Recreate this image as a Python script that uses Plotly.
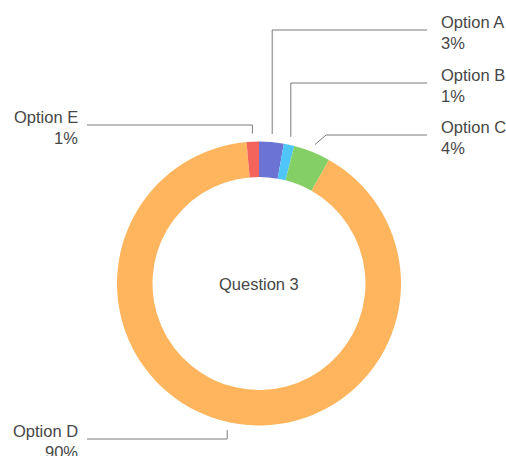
import math
import plotly.graph_objects as go

labels = ["Option A", "Option B", "Option C", "Option D", "Option E"]
values = [2.8, 1.2, 4.2, 90.4, 1.4]
colors = ["#6B74D2", "#4FC6F8", "#85D066", "#FFB55E", "#F5645B"]
title = "Question 3"

W, H = 506, 456
CX, CY, R = 259, 283.5, 142
HOLE = 0.75

fig = go.Figure()
fig.add_trace(go.Pie(
    labels=labels, values=values, sort=False, direction="clockwise", rotation=0,
    hole=HOLE, marker=dict(colors=colors, line=dict(width=0)),
    textinfo="none", hoverinfo="label+percent", showlegend=False,
    domain=dict(x=[(CX - R) / W, (CX + R) / W], y=[(H - CY - R) / H, (H - CY + R) / H]),
))

# leader lines and labels computed from slice mid-angles
total = sum(values)
cum = 0
label_cfg = {
    "Option A": ("right", 30),
    "Option B": ("right", 83),
    "Option C": ("right", 135),
    "Option D": ("left", 439),
    "Option E": ("left", 125),
}
shapes = []
annotations = []
line_col = "#7a7a7a"
txt_col = "#474747"
FS = 16.5
for lab, v in zip(labels, values):
    mid = (cum + v / 2) / total * 2 * math.pi
    cum += v
    rr = R + 8
    px = CX + rr * math.sin(mid)
    py = CY - rr * math.cos(mid)
    side, ly = label_cfg[lab]
    pct = v / total
    if side == "right":
        xend = 427
        if abs(py - ly) > 15:
            pts = [(px, py), (px, ly), (xend, ly)]
        else:
            pts = [(px, py), (px + 11, ly), (xend, ly)]
        tx, anchor = 439, "left"
    else:
        xend = 87
        pts = [(px, py), (px, ly), (xend, ly)]
        tx, anchor = 80, "right"
    path = "M " + " L ".join(f"{x:.1f},{y:.1f}" for x, y in pts)
    shapes.append(dict(type="path", path=path, xref="x", yref="y",
                       line=dict(color=line_col, width=1)))
    annotations.append(dict(x=tx, y=ly - 8.5, xref="x", yref="y", text=lab,
                            showarrow=False, xanchor=anchor, yanchor="middle",
                            align=anchor, font=dict(size=FS, color=txt_col)))
    annotations.append(dict(x=tx, y=ly + 12.5, xref="x", yref="y", text=f"{pct:.0%}",
                            showarrow=False, xanchor=anchor, yanchor="middle",
                            align=anchor, font=dict(size=FS, color=txt_col)))

annotations.append(dict(x=CX, y=CY, xref="x", yref="y", text=title, showarrow=False,
                        font=dict(size=FS, color=txt_col)))

fig.update_layout(
    width=W, height=H, margin=dict(l=0, r=0, t=0, b=0),
    paper_bgcolor="white", plot_bgcolor="rgba(0,0,0,0)",
    font=dict(family="Liberation Sans, Arial, Helvetica, sans-serif"),
    xaxis=dict(range=[0, W], visible=False, fixedrange=True, domain=[0, 1]),
    yaxis=dict(range=[H, 0], visible=False, fixedrange=True, domain=[0, 1]),
    shapes=shapes, annotations=annotations,
)
fig.write_html("out.html", config={"displayModeBar": False},
               post_script="document.body.style.margin='0';document.body.style.overflow='hidden';")
